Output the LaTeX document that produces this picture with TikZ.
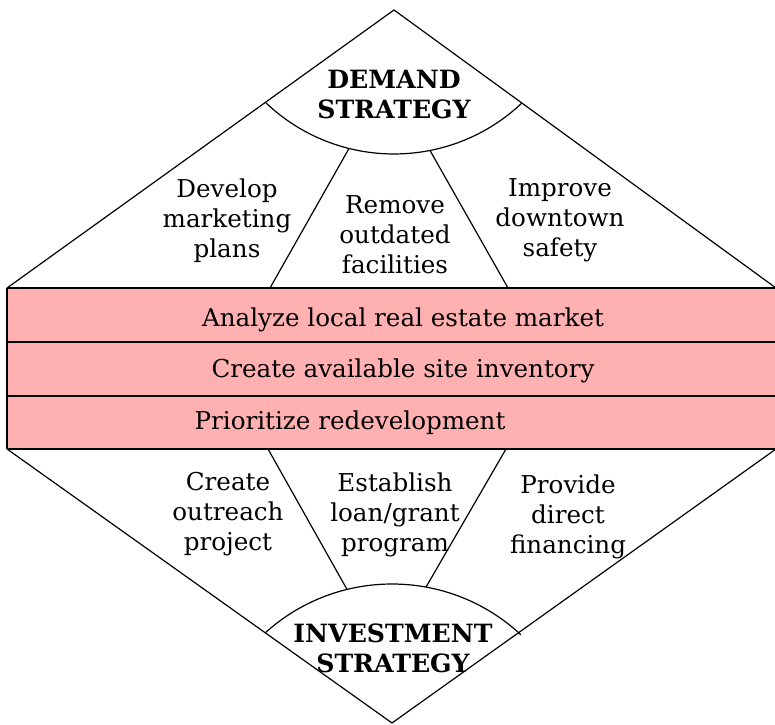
\documentclass[tikz,border=0pt]{standalone}
\usepackage{fontspec}
\setmainfont{DejaVu Serif}
\definecolor{bandpink}{RGB}{255,176,176}

\begin{document}
\begin{tikzpicture}[x=0.19mm,y=0.19mm]
	\tikzstyle{every node}+=[inner sep=0pt]
	\tikzstyle{txt}=[align=center,font=\fontsize{13.3}{16.2}\selectfont]
	\tikzstyle{head}=[align=center,font=\fontsize{13.6}{16.2}\selectfont\bfseries]
	\tikzstyle{edge}=[black,line width=0.65pt]
	\useasboundingbox (0,0) rectangle (775,725);
	% corners of the diamond
	\coordinate (apexT) at (394,715);
	\coordinate (apexB) at (392,2);
	\coordinate (cornerTL) at (7,437);
	\coordinate (cornerTR) at (776,437);
	\coordinate (cornerBL) at (7,276);
	\coordinate (cornerBR) at (776,276);
	% upper half
	\draw [edge] (cornerTL) -- (apexT) -- (cornerTR);
	\draw [edge] (394,757) ++(226.5:186) arc (226.5:313.4:186);
	\draw [edge] (349,576.5) -- (270,437);
	\draw [edge] (430,574.5) -- (508,437);
	% lower half
	\draw [edge] (cornerBL) -- (apexB) -- (cornerBR);
	\draw [edge] (392,-48) ++(132.2:189) arc (132.2:47:189);
	\draw [edge] (347,135.6) -- (268,276);
	\draw [edge] (426,137.9) -- (506,276);
	% bands
	\fill [bandpink] (cornerBL) rectangle (cornerTR);
	\draw [black,line width=0.8pt] (cornerBL) -- (cornerTL);
	\draw [black,line width=1.1pt] (7,383) -- (776,383);
	\draw [black,line width=1.1pt] (7,329) -- (776,329);
	\draw [black,line width=1.6pt] (cornerTL) -- (cornerTR);
	\draw [black,line width=1.6pt] (cornerBL) -- (cornerBR);
	% texts
	\node [head] (demand) at (394,630) {DEMAND\\STRATEGY};
	\node [txt] (develop) at (227,504) {Develop\\marketing\\plans};
	\node [txt] (remove) at (395,490.5) {Remove\\outdated\\facilities};
	\node [txt] (improve) at (560,505) {Improve\\downtown\\safety};
	\node [txt,anchor=base] (analyze) at (403,398) {Analyze local real estate market};
	\node [txt,anchor=base] (inventory) at (403,347) {Create available site inventory};
	\node [txt,anchor=base] (prioritize) at (350,295) {Prioritize redevelopment};
	\node [txt] (outreach) at (228,211) {Create\\outreach\\project};
	\node [txt] (establish) at (395,210.5) {Establish\\loan/grant\\program};
	\node [txt] (provide) at (568,208) {Provide\\direct\\financing};
	\node [head] (investment) at (393,77) {INVESTMENT\\STRATEGY};
\end{tikzpicture}
\end{document}
